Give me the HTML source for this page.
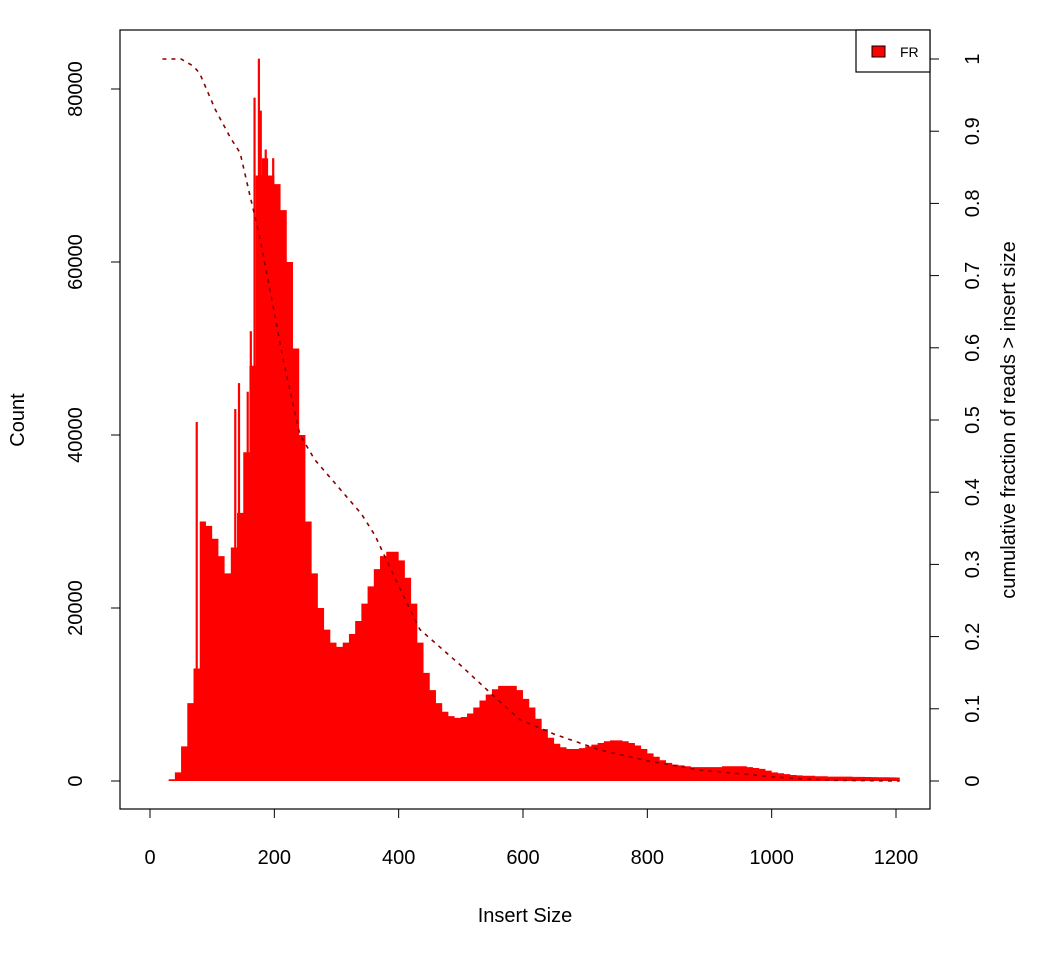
<!DOCTYPE html>
<html><head><meta charset="utf-8"><style>
body{margin:0;background:#fff}
svg{display:block;font-family:"Liberation Sans",sans-serif}
</style></head><body>
<svg id="c" width="1050" height="960" viewBox="0 0 1050 960">
<rect x="0" y="0" width="1050" height="960" fill="#fff"/>
<g id="bars"></g>
<g id="spikes"></g>
<polyline id="cum" fill="none" stroke="#8B0000" stroke-width="1.6" stroke-dasharray="4,5"/>
<rect x="120" y="30" width="810" height="779" fill="none" stroke="#000" stroke-width="1.2"/>
<g id="xaxis"></g>
<g id="yaxis"></g>
<g id="y2axis"></g>
<text x="525" y="922" font-size="20" text-anchor="middle">Insert Size</text>
<text transform="translate(24,420) rotate(-90)" font-size="20" text-anchor="middle">Count</text>
<text transform="translate(1015,420) rotate(-90)" font-size="20" text-anchor="middle">cumulative fraction of reads &gt; insert size</text>
<g>
<rect x="856" y="30" width="74" height="42" fill="#fff" stroke="#000" stroke-width="1.2"/>
<rect x="872" y="46" width="13" height="11" fill="#f00" stroke="#000" stroke-width="1"/>
<text x="900" y="57" font-size="14">FR</text>
</g>
</svg>
<script>
const insertSizes=[20,30,40,50,60,70,80,90,100,110,120,130,140,150,160,170,180,190,200,210,220,230,240,250,260,270,280,290,300,310,320,330,340,350,360,370,380,390,400,410,420,430,440,450,460,470,480,490,500,510,520,530,540,550,560,570,580,590,600,610,620,630,640,650,660,670,680,690,700,710,720,730,740,750,760,770,780,790,800,810,820,830,840,850,860,870,880,890,900,910,920,930,940,950,960,970,980,990,1000,1010,1020,1030,1040,1050,1060,1070,1080,1090,1100,1110,1120,1130,1140,1150,1160,1170,1180,1190,1200];
const counts=[0,200,1000,4000,9000,13000,30000,29500,28000,26000,24000,27000,31000,38000,48000,70000,72000,70000,69000,66000,60000,50000,40000,30000,24000,20000,17500,16000,15500,16000,17000,18500,20500,22500,24500,26000,26500,26500,25500,23500,20500,16000,12500,10500,9000,8000,7500,7300,7400,7800,8500,9300,10000,10600,11000,11000,11000,10500,9500,8500,7200,6000,5000,4300,3900,3700,3700,3800,4000,4200,4400,4600,4700,4700,4600,4400,4100,3700,3200,2800,2400,2100,1900,1800,1700,1600,1600,1600,1600,1600,1700,1700,1700,1700,1600,1500,1400,1200,1000,900,800,700,650,600,600,550,550,500,500,500,500,480,470,460,450,440,430,420,400];
const spikeSizes=[75,137,143,157,162,168,175,178,186,198];
const spikeCounts=[41500,43000,46000,45000,52000,79000,83500,77500,73000,72000];
const cumSizes=[20,40,50,70,80,105,130,145,161,175,193,215,241,265,300,340,362,400,434,500,550,595,650,724,800,885,950,1000,1050,1100,1206];
const cumFrac=[1,1,1,0.99,0.98,0.93,0.89,0.87,0.81,0.76,0.68,0.58,0.48,0.445,0.41,0.37,0.34,0.27,0.21,0.16,0.12,0.085,0.065,0.043,0.028,0.015,0.01,0.006,0.003,0.001,0];
const xTicks=[0,200,400,600,800,1000,1200];
const yTicks=[0,20000,40000,60000,80000];
const y2Ticks=[0,0.1,0.2,0.3,0.4,0.5,0.6,0.7,0.8,0.9,1];
const NS="http://www.w3.org/2000/svg";
const X=v=>150+v*(896-150)/1200;
const Y=v=>781-v*(781-89)/80000;
const Y2=v=>781-v*(781-59);
function mk(t,a,p){const e=document.createElementNS(NS,t);for(const k in a)e.setAttribute(k,a[k]);p.appendChild(e);return e;}
const bars=document.getElementById('bars');
let pts=[];
for(let i=0;i<insertSizes.length;i++){
 const x0=X(insertSizes[i]),x1=X(insertSizes[i]+(i<insertSizes.length-1?insertSizes[i+1]-insertSizes[i]:6));
 const y=Y(counts[i]);
 pts.push(x0+','+y,x1+','+y);
}
pts.push(X(1206)+','+Y(0),X(20)+','+Y(0));
const poly=mk('polygon',{points:pts.join(' '),fill:'#f00'},bars);


const sp=document.getElementById('spikes');
for(let i=0;i<spikeSizes.length;i++){
 const r=mk('rect',{x:X(spikeSizes[i])-1,y:Y(spikeCounts[i]),width:2.2,height:Y(0)-Y(spikeCounts[i]),fill:'#f00'},sp);
 
 
}
document.getElementById('cum').setAttribute('points',cumSizes.map((s,i)=>X(s)+','+Y2(cumFrac[i])).join(' '));
const xa=document.getElementById('xaxis');
mk('line',{x1:X(0),x2:X(1200),y1:809,y2:809,stroke:'#000'},xa).setAttribute('y1',809);
xa.lastChild.setAttribute('y1',809);xa.lastChild.setAttribute('y2',809);
xTicks.forEach(t=>{
 mk('line',{x1:X(t),x2:X(t),y1:809,y2:818,stroke:'#000'},xa);
 const tx=mk('text',{x:X(t),y:864,'font-size':20,'text-anchor':'middle'},xa);tx.textContent=t;
 
 
});
const ya=document.getElementById('yaxis');
mk('line',{x1:120,x2:120,y1:Y(0),y2:Y(80000),stroke:'#000'},ya);
yTicks.forEach(t=>{
 mk('line',{x1:111,x2:120,y1:Y(t),y2:Y(t),stroke:'#000'},ya);
 const tx=mk('text',{transform:`translate(82,${Y(t)}) rotate(-90)`,'font-size':20,'text-anchor':'middle'},ya);tx.textContent=t;
 
 
});
const y2=document.getElementById('y2axis');
y2Ticks.forEach(t=>{
 mk('line',{x1:930,x2:939,y1:Y2(t),y2:Y2(t),stroke:'#000'},y2);
 const tx=mk('text',{transform:`translate(979,${Y2(t)}) rotate(-90)`,'font-size':20,'text-anchor':'middle'},y2);tx.textContent=String(t);
 
 
});
</script>
</body></html>
